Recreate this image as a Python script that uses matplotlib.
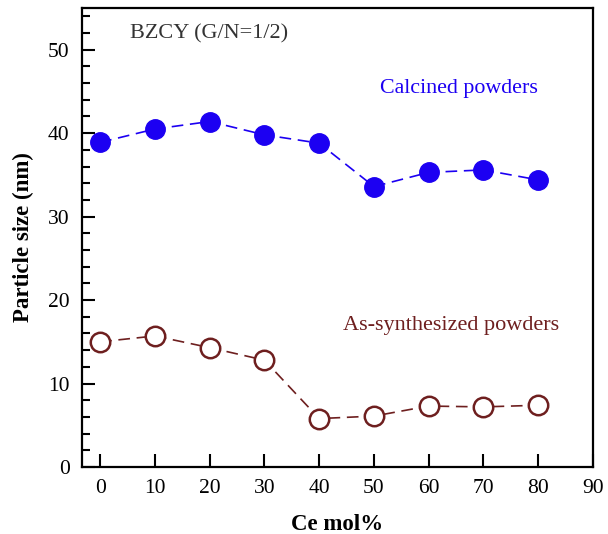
import matplotlib
matplotlib.use("Agg")
import matplotlib.pyplot as plt
from matplotlib.ticker import MultipleLocator

# Particle size vs Ce content for BZCY powders
ce_mol = [0, 10, 20, 30, 40, 50, 60, 70, 80]
calcined = [38.9, 40.5, 41.4, 39.8, 38.8, 33.6, 35.3, 35.6, 34.4]
as_synth = [15.0, 15.7, 14.3, 12.8, 5.8, 6.1, 7.3, 7.2, 7.4]

blue = "#1c00f2"
brown = "#6e1f1f"

plt.rcParams['font.family'] = ['Liberation Serif', 'DejaVu Serif']

fig = plt.figure(figsize=(6.08, 5.34), dpi=100)
ax = fig.add_axes([0.135, 0.1255, 0.8403, 0.8595])

ax.plot(ce_mol, calcined, color=blue, ls=(0, (7, 4)), lw=1.2,
        marker='o', ms=14, mfc=blue, mec=blue)
ax.plot(ce_mol, as_synth, color=brown, ls=(0, (7, 4)), lw=1.2,
        marker='o', ms=14, mfc='white', mec=brown, mew=1.8)

ax.set_xlim(-3.3, 90)
ax.set_ylim(0, 55)
ax.xaxis.set_major_locator(MultipleLocator(10))
ax.yaxis.set_major_locator(MultipleLocator(10))
ax.yaxis.set_minor_locator(MultipleLocator(2))
ax.tick_params(which='both', direction='in', top=False, right=False,
               labelsize=15.5, width=1.5)
ax.tick_params(which='major', length=9.5, pad=9)
ax.tick_params(which='minor', length=5.8)
for sp in ax.spines.values():
    sp.set_linewidth(1.6)

ax.set_xlabel('Ce mol%', fontsize=16.5, fontweight='bold', labelpad=11)
ax.set_ylabel('Particle size (nm)', fontsize=16.5, fontweight='bold', labelpad=10)

ax.text(5.5, 51.9, 'BZCY (G/N=1/2)', fontsize=16, color='#333333', va='center')
ax.text(51.1, 45.3, 'Calcined powders', fontsize=15.8, color=blue, va='center')
ax.text(44.3, 16.9, 'As-synthesized powders', fontsize=16, color=brown, va='center')

fig.savefig('out.png', dpi=100)
